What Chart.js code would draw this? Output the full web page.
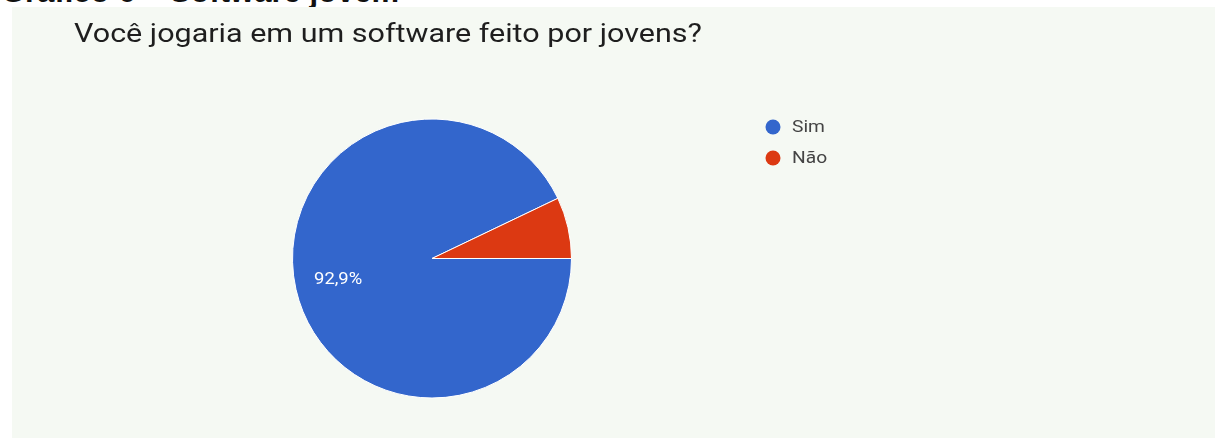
<!DOCTYPE html>
<html lang="pt">
<head>
  <meta charset="UTF-8">
  <title>Você jogaria em um software feito por jovens?</title>
  <script src="https://cdn.jsdelivr.net/npm/chart.js@4.4.0/dist/chart.umd.min.js"></script>
  <style>
    body { margin: 0; background: #fff; width: 1217px; height: 438px; overflow: hidden; position: relative; font-family: Roboto, Arial, sans-serif; }
    #header { position: absolute; left: 1px; top: -26px; font: bold 31px "Liberation Sans", Arial, sans-serif; color: #111; white-space: nowrap; }
    #panel { position: absolute; left: 12px; top: 7px; width: 1203px; height: 431px; background: #f5f9f3; }
    #title { position: absolute; left: 62px; top: 12px; font: 25px Roboto, sans-serif; color: #1e1e1e; white-space: nowrap;
             transform: scaleX(1.22); transform-origin: left top; }
    #wrap { position: absolute; left: 0; top: 0; width: 1203px; height: 431px; }
  </style>
</head>
<body>
  <div id="header">Gráfico 6 – Software jovem</div>
  <div id="panel">
    <div id="wrap"><canvas id="myChart"></canvas></div>
    <div id="title">Você jogaria em um software feito por jovens?</div>
  </div>

  <script>
    const labels = ['Sim', 'Não'];
    const values = [92.9, 7.1];
    const colors = ['#3366cc', '#dc3912'];

    // draw text a bit stretched, the screenshot is wider than tall
    function wideText(ctx, txt, x, y, sx) {
      ctx.save();
      ctx.translate(x, y);
      ctx.scale(sx, 1);
      ctx.fillText(txt, 0, 0);
      ctx.restore();
    }

    // percent text inside the big slice
    const sliceLabels = {
      id: 'sliceLabels',
      afterDatasetsDraw(chart) {
        const ctx = chart.ctx;
        const arcs = chart.getDatasetMeta(0).data;
        ctx.save();
        ctx.font = '16px Roboto, sans-serif';
        ctx.fillStyle = '#ffffff';
        ctx.textAlign = 'center';
        ctx.textBaseline = 'middle';
        arcs.forEach((arc, i) => {
          if (values[i] < 10) return;
          const p = arc.getProps(['x', 'y', 'startAngle', 'endAngle', 'outerRadius'], true);
          const mid = (p.startAngle + p.endAngle) / 2;
          const r = p.outerRadius * 0.69;
          wideText(ctx, values[i].toFixed(1).replace('.', ',') + '%',
            p.x + Math.cos(mid) * r, p.y + Math.sin(mid) * r, 1.15);
        });
        ctx.restore();
      }
    };

    // legend at the right, like the google forms one
    const sideLegend = {
      id: 'sideLegend',
      afterDraw(chart) {
        const ctx = chart.ctx;
        ctx.save();
        ctx.font = '16px Roboto, sans-serif';
        ctx.textBaseline = 'middle';
        labels.forEach((lab, i) => {
          const y = 120 + i * 31;
          ctx.beginPath();
          ctx.arc(761, y, 7.5, 0, Math.PI * 2);
          ctx.fillStyle = colors[i];
          ctx.fill();
          ctx.fillStyle = '#444';
          wideText(ctx, lab, 780, y + 1, 1.2);
        });
        ctx.restore();
      }
    };

    const ctx = document.getElementById('myChart').getContext('2d');
    const myChart = new Chart(ctx, {
      type: 'pie',
      data: {
        labels: labels,
        datasets: [{
          data: values,
          backgroundColor: colors,
          borderColor: '#ffffff',
          borderWidth: 1
        }]
      },
      options: {
        responsive: true,
        maintainAspectRatio: false,
        animation: false,
        rotation: 90,
        layout: { padding: { left: 280, top: 111, right: 643, bottom: 39 } },
        plugins: {
          legend: { display: false },
          tooltip: { enabled: false }
        }
      },
      plugins: [sliceLabels, sideLegend]
    });
  </script>
</body>
</html>
